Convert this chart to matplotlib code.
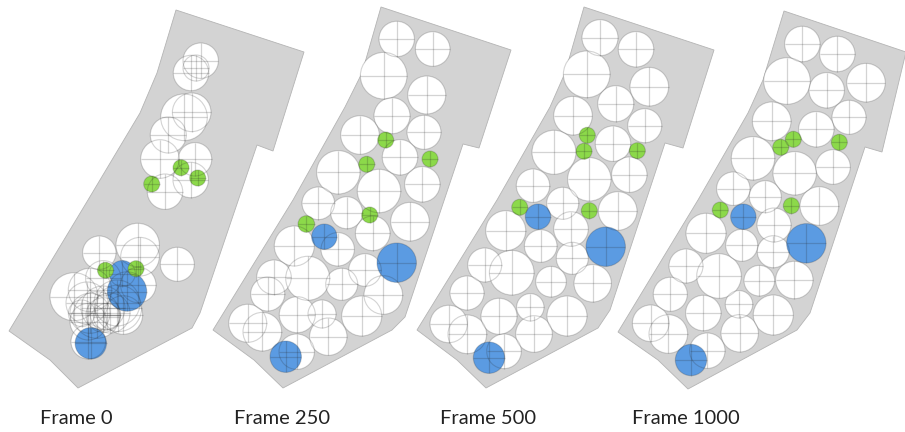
import matplotlib
matplotlib.use("Agg")
import matplotlib.pyplot as plt
from matplotlib.patches import Circle, Polygon

frame_labels = ["Frame 0", "Frame 250", "Frame 500", "Frame 1000"]
label_x = [40, 234, 440, 632]

area0 = [(176,10),(304,52),(273,151),(257,145),(200,313),(192,328),(78,388),(50,360),(9,331),(88,200),(140,113),(157,73)]
area1 = [(381,7),(511,50),(479,148),(463,144),(405,317),(392,330),(283,388),(254,360),(213,330),(293,200),(345,107),(362,73)]
area2 = [(584,7),(714,50),(683,148),(665,143),(610,310),(598,328),(486,388),(457,360),(417,330),(497,200),(550,107),(565,73)]
area3 = [(784,11),(906,52),(882,152),(865,147),(810,313),(797,330),(688,389),(658,360),(618,332),(698,200),(748,113),(763,80)]

white0 = [(200.7,60.7,17.7),(191,73,17.7),(196,68,13),(184,117.3,23.3),(191.7,112.3,19.3),(168.3,135,18),
          (160,159,19.3),(195,159.3,16.7),(190.7,180,17.7),(165,191.7,17.7),(137.7,245,21.7),(140,256.7,19.3),
          (99.3,252.7,16.7),(177.3,264.3,17),(103.3,278.3,17.7),(138.3,285,17.7),(74,296.7,24),(90,290,21.7),
          (118.3,308.3,23.3),(123.3,315,19.3),(90,313.3,20),(96.7,315,23.3),(88.3,321.7,18.3),(103.3,315,17.3),
          (106.7,316.7,13.3),(88.3,341.7,17.3),(81.7,313.3,13.3),(103,308,22),(110,313,20),(87,303,21),(117,303,23)]
blue0 = [(122.3,273.5,13),(127,291.5,19.7),(90.8,343.3,15.7)]
green0 = [(181,167.7,8),(197.7,178,8),(151.7,184,8),(105.5,270.3,8),(136,268.7,8)]

white1 = [(396.7,39,17.7),(432.7,49,17.3),(383.7,75.7,23.3),(426.7,95,19),(392,115.7,18),(424,132.3,17),
          (360,135,19.3),(400,157.3,17.7),(338.3,172.3,21.7),(379,191,21.7),(422.3,184.3,17.7),(318.3,203.3,16.3),
          (346.7,212.7,16),(410,221.7,19.3),(372.7,233.3,17.3),(294.3,246,20),(337.7,249.3,16.7),(365,270,16.3),
          (274,277.3,17.3),(307.7,278.3,22),(341.7,284.3,16),(267.7,294,17),(383.3,295,19.3),(297.3,314.7,18),
          (322,314,14),(361.7,316,20),(247.7,323.3,19),(262.3,331.7,19.3),(328.3,336.7,18.7),(296.7,351.7,17.7)]
blue1 = [(324.3,236.7,12.7),(396.7,262.7,19.7),(285.7,356.7,15.7)]
green1 = [(385.7,140,8),(366.7,164.3,8),(430,159,8),(306.3,224,8.3),(369.7,215,8)]

white2 = [(600,37.7,18),(636,49.3,17.7),(586.7,74.3,23.3),(649.3,86.7,19.3),(615.7,103.7,18),(644.7,125.7,17),
          (573,115.7,19.3),(613,143.7,17.7),(554,152.3,22),(589.3,179.3,21.7),(629.3,174.7,17.7),(533,185.7,16.7),
          (562.7,203.3,16),(617.7,211,19.3),(571,229,17.3),(505.7,230.7,20),(540.7,246,16.3),(572.3,258.3,16),
          (484.7,265,17),(511.7,272.7,22.3),(551,281.7,15.3),(592.7,283.3,18.7),(467,293,17),(499,316.3,18),
          (530.3,307.3,13.7),(567,316,20),(448.7,324,18.7),(467.3,334.3,19.3),(534,334,18.3),(504,351.3,17.3)]
blue2 = [(538,216.7,12.7),(605.7,246.7,19.7),(489,357.7,15.7)]
green2 = [(587.3,135.3,8),(584,151.3,8),(637.3,150.7,8),(519.7,207.3,8),(589.3,210.7,8)]

white3 = [(802.3,44,17.7),(837.3,54,17.7),(787,81,23.3),(866,82.7,19.3),(826.7,90.3,17.7),(849,117.3,17),
          (771.7,121.3,19.3),(816.3,129.3,17.7),(753,158.3,21.7),(794.7,173.3,21.7),(833,167,17.3),(733.3,188.7,16.7),
          (765.3,196.7,16),(819.3,206,19.3),(774,225,17),(706,233.3,20),(741.7,245.3,16),(773.3,251.7,16),
          (686,266,17),(719,276,22.3),(759.3,280.7,15.3),(794.3,280,18.7),(670.3,294.3,17),(703.3,313,17.7),
          (739,304.3,13.7),(773.3,315,20),(650.7,323.3,18.3),(668.3,334,19.3),(739.7,333.3,18.7),(707.3,350.7,17.7)]
blue3 = [(743.3,216.7,12.7),(806.3,243.3,19.7),(691,360,15.7)]
green3 = [(793.3,139.3,8),(780.7,147.3,8),(839.3,142.3,8),(720.3,210,8),(791.3,205.7,8)]

panels = [(area0, white0, blue0, green0), (area1, white1, blue1, green1),
          (area2, white2, blue2, green2), (area3, white3, blue3, green3)]

GRAY = "#d3d3d3"
BLUE = "#5b9be2"
GREEN = "#8cd94a"
INK = (0.15, 0.15, 0.15, 0.2)

plt.rcParams["font.family"] = ["Lato", "DejaVu Sans"]
fig = plt.figure(figsize=(9.05, 4.32), dpi=100)
ax = fig.add_axes([0, 0, 1, 1])
ax.set_xlim(0, 905)
ax.set_ylim(432, 0)
ax.axis("off")

for area, white, blue, green in panels:
    ax.add_patch(Polygon(area, closed=True, fc=GRAY, ec="#b4b4b4", lw=0.6, zorder=1))
    for x, y, r in white:
        ax.add_patch(Circle((x, y), r, fc="white", ec="none", zorder=2))
    for group, col in ((blue, BLUE), (green, GREEN)):
        for x, y, r in group:
            ax.add_patch(Circle((x, y), r, fc=col, ec="none", zorder=3))
    for group in (white, blue, green):
        for x, y, r in group:
            ax.add_patch(Circle((x, y), r, fc="none", ec=INK, lw=0.8, zorder=4))
            ax.plot([x - r, x + r], [y, y], color=INK, lw=0.9, zorder=4, solid_capstyle="butt")
            ax.plot([x, x], [y - r, y + r], color=INK, lw=0.9, zorder=4, solid_capstyle="butt")

for lab, x in zip(frame_labels, label_x):
    ax.text(x, 419, lab, fontsize=14.5, color="#222222", ha="left", va="center")

fig.savefig("out.png", dpi=100)
